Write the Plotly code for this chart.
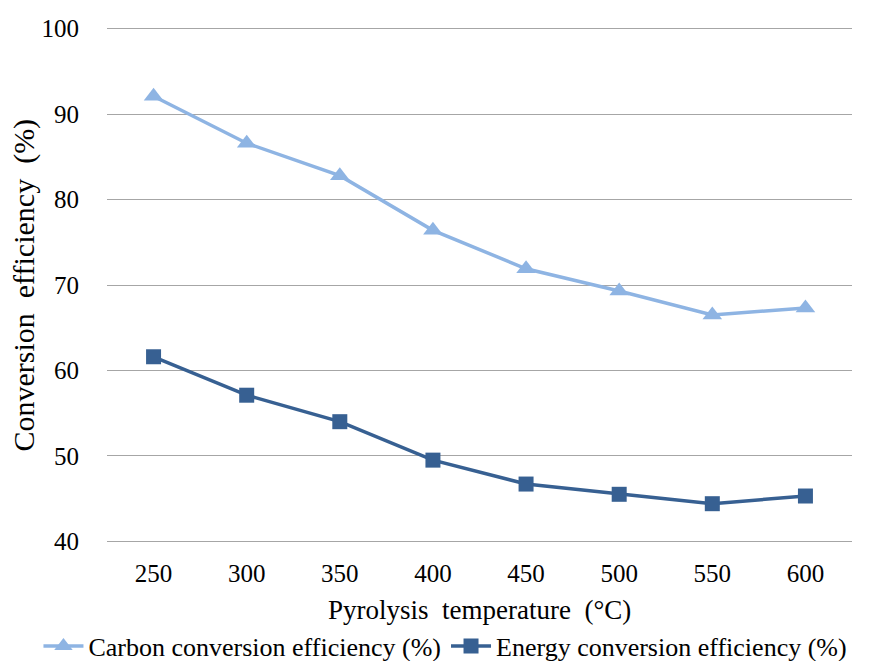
import plotly.graph_objects as go

temperatures = ["250", "300", "350", "400", "450", "500", "550", "600"]
carbon_eff = [92.1, 86.6, 82.8, 76.4, 71.9, 69.3, 66.5, 67.3]
energy_eff = [61.6, 57.1, 54.0, 49.5, 46.7, 45.5, 44.4, 45.3]
y_ticks = [40, 50, 60, 70, 80, 90, 100]

x_title = "Pyrolysis\u00a0 temperature\u00a0 (°C)"
y_title = "Conversion\u00a0 efficiency\u00a0 (%)"

font_family = "Liberation Serif"

fig = go.Figure()
fig.add_trace(go.Scatter(
    x=temperatures, y=carbon_eff, mode="lines+markers",
    name="Carbon conversion efficiency (%)",
    line=dict(color="#8EB4E3", width=3.5),
    marker=dict(symbol="triangle-up", size=17, color="#8EB4E3"),
))
fig.add_trace(go.Scatter(
    x=temperatures, y=energy_eff, mode="lines+markers",
    name="Energy conversion efficiency (%)",
    line=dict(color="#376092", width=3.5),
    marker=dict(symbol="square", size=15, color="#376092"),
))

fig.update_layout(
    width=871, height=661,
    margin=dict(l=107, r=19, t=27, b=118, autoexpand=False),
    paper_bgcolor="white", plot_bgcolor="white",
    font=dict(family=font_family, size=24, color="#000000"),
    showlegend=True,
    legend=dict(orientation="h", x=-0.092, xanchor="left", xref="paper",
                y=-0.2, yref="paper", yanchor="middle",
                font=dict(family=font_family, size=26),
                itemwidth=40, tracegroupgap=0),
    xaxis=dict(
        type="category", range=[-0.5, 7.5],
        showgrid=False, showline=False, zeroline=False,
        ticks="outside", ticklen=8, tickcolor="rgba(0,0,0,0)",
        tickfont=dict(family=font_family, size=25),
    ),
    yaxis=dict(
        range=[39.8, 100.2], tickvals=y_ticks,
        showgrid=True, gridcolor="#A6A6A6", gridwidth=1.3,
        zeroline=False, showline=False,
        ticks="outside", ticklen=22, tickcolor="rgba(0,0,0,0)",
        tickfont=dict(family=font_family, size=25),
    ),
    annotations=[
        dict(text=x_title, xref="paper", yref="paper", x=0.5, y=-0.13,
             xanchor="center", yanchor="middle", showarrow=False,
             font=dict(family=font_family, size=27)),
        dict(text=y_title, xref="paper", yref="paper", x=-0.112, y=0.5,
             xanchor="center", yanchor="middle", showarrow=False, textangle=-90,
             font=dict(family=font_family, size=30)),
    ],
)

fig.write_html("out.html")
